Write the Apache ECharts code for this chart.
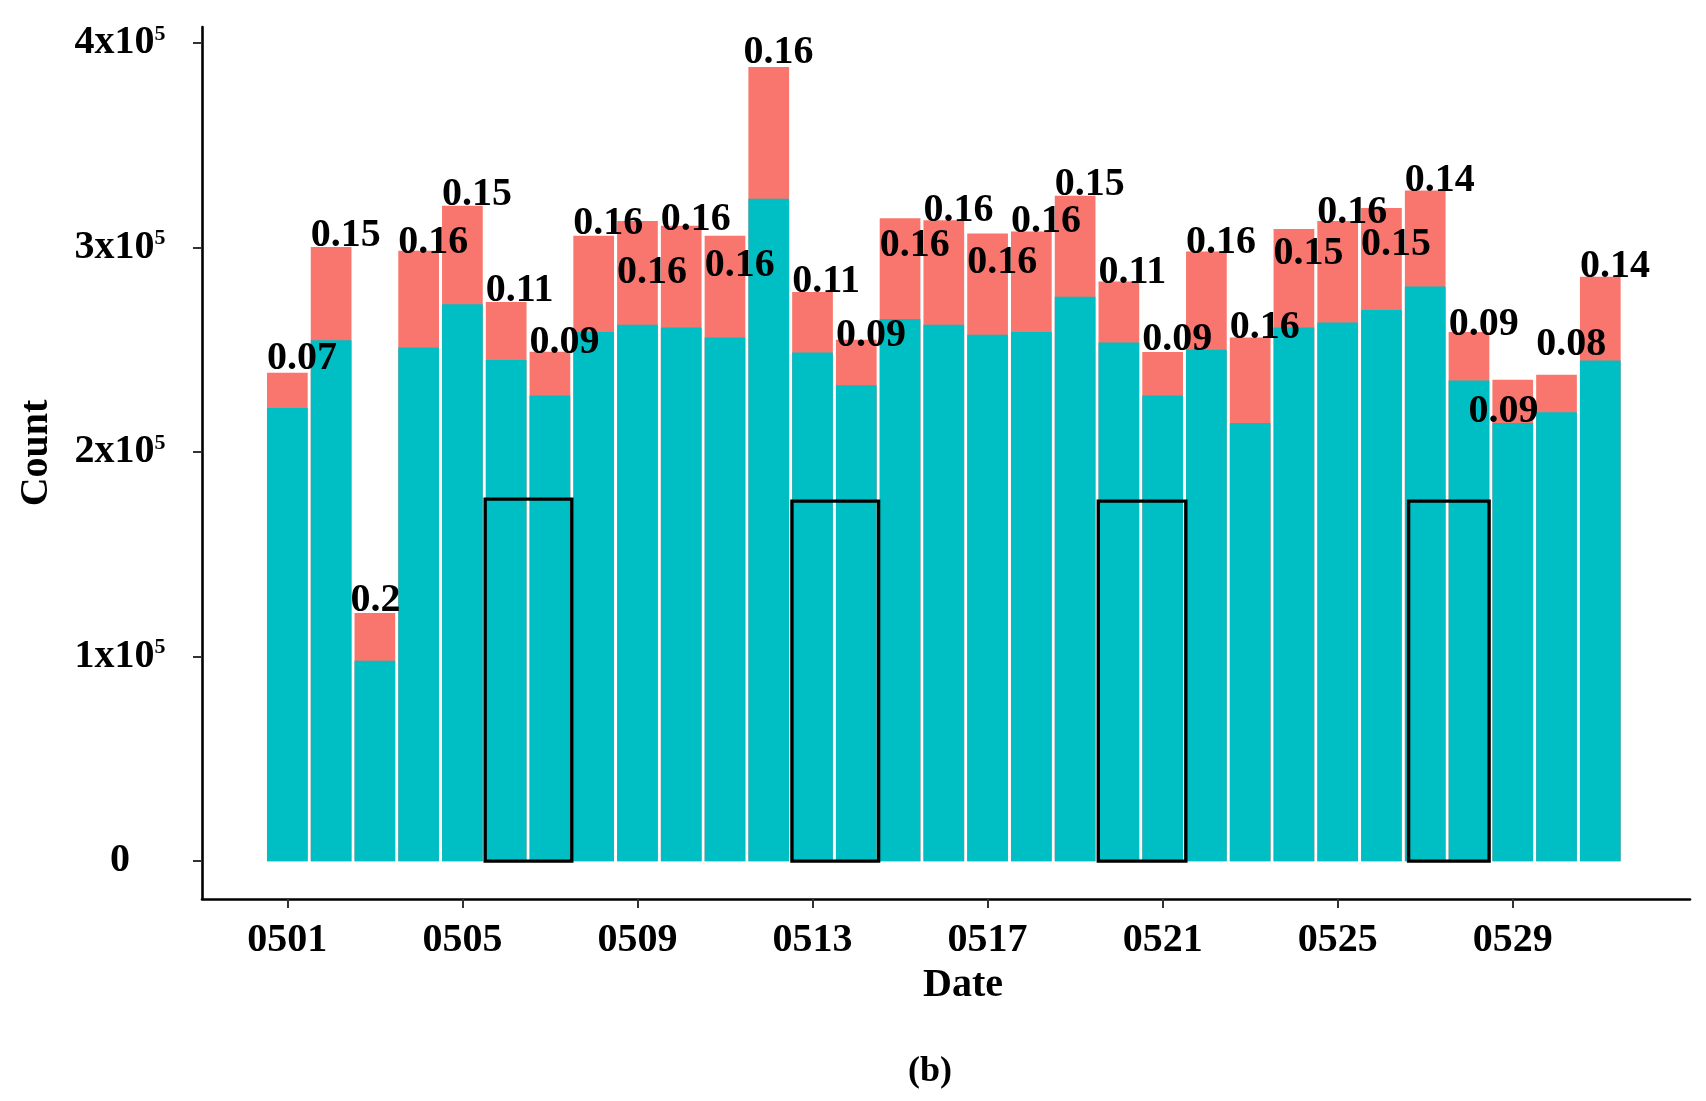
<!DOCTYPE html>
<html>
<head>
<meta charset="utf-8">
<script src="https://cdn.jsdelivr.net/npm/echarts@6/dist/echarts.min.js"></script>
<style>
html,body{margin:0;padding:0;background:#ffffff;}
#chart{width:1706px;height:1101px;}
</style>
</head>
<body>
<div id="chart"></div>
<script>
// ---------------- data ----------------
const dates = ['0501','0502','0503','0504','0505','0506','0507','0508','0509','0510',
               '0511','0512','0513','0514','0515','0516','0517','0518','0519','0520',
               '0521','0522','0523','0524','0525','0526','0527','0528','0529','0530','0531'];
const totalCounts = [238800,300300,121300,298400,320400,273400,249000,305700,313000,310600,
                     305700,388300,278300,254900,314300,313300,306800,307800,325300,283400,
                     248900,298000,256000,309100,313000,319300,327900,258700,235300,237800,285700];
const tealCounts  = [221500,254700, 98000,251100,272300,245000,227700,258700,262200,260900,
                     256000,323800,248700,232600,265000,262200,257300,258700,275900,253600,
                     227700,250000,214200,260900,263300,269500,280900,235000,214200,219400,244800];
const ratioLabels = ['0.07','0.15','0.2','0.16','0.15','0.11','0.09','0.16','0.16','0.16',
                     '0.16','0.16','0.11','0.09','0.16','0.16','0.16','0.16','0.15','0.11',
                     '0.09','0.16','0.16','0.15','0.16','0.15','0.14','0.09','0.09','0.08','0.14'];
const xTickDates = ['0501','0505','0509','0513','0517','0521','0525','0529'];
const yTickValues = [0,100000,200000,300000,400000];
// highlighted weekend boxes, in day-index units (0 = 0501) and counts
const boxStart = [4.52, 11.53, 18.53, 25.62];
const boxEnd   = [6.50, 13.51, 20.53, 27.46];
const boxTop   = [177000, 176000, 176000, 176000];

// ---------------- layout / style ----------------
const FONT = '"Liberation Serif", "DejaVu Serif", serif';
const FS = 40;
const X_MIN = -1.95, X_MAX = 32.05;
const Y_MIN = -18500, Y_MAX = 407800;
const GRID = {left: 202, right: 16, top: 27, bottom: 202};
const gridW = 1706 - GRID.left - GRID.right;
const dayPx = gridW / (X_MAX - X_MIN);
const BAR_FRAC = 0.93;
const barW = BAR_FRAC * dayPx;
// label placement nudges (px): horizontal and vertical offsets from bar top-left
const labelDX = [0,0,-4,0,0,0,0,0,0,0, 0,-5,0,0,0,0,0,0,0,0, 0,0,0,0,0,0,0,0,-24,0,0];
const labelDY = [-2,1,0,4,1,1,3,0,64,6, 42,-2,2,8,39,2,41,2,1,3, 0,3,2,37,4,49,2,5,44,-18,2];
const BASE_ADJ = 8;

const chart = echarts.init(document.getElementById('chart'), null, {renderer: 'canvas'});

const totalData = dates.map((d, i) => [i, totalCounts[i]]);
const tealData = dates.map((d, i) => [i, tealCounts[i]]);
const boxData = boxStart.map((s, i) => [s, boxEnd[i], boxTop[i]]);

const option = {
  animation: false,
  backgroundColor: '#ffffff',
  grid: GRID,
  xAxis: {
    type: 'value',
    min: X_MIN,
    max: X_MAX,
    splitLine: {show: false},
    axisLine: {show: true, onZero: false, lineStyle: {color: '#000', width: 2.6}},
    axisTick: {show: true, length: 9, lineStyle: {color: '#333', width: 2},
               customValues: xTickDates.map(d => dates.indexOf(d))},
    axisLabel: {
      customValues: xTickDates.map(d => dates.indexOf(d)),
      formatter: v => dates[Math.round(v)],
      margin: 22,
      color: '#000',
      fontFamily: FONT,
      fontWeight: 'bold',
      fontSize: FS
    }
  },
  yAxis: {
    type: 'value',
    min: Y_MIN,
    max: Y_MAX,
    splitLine: {show: false},
    axisLine: {show: true, onZero: false, lineStyle: {color: '#000', width: 2.6}},
    axisTick: {show: true, length: 9, lineStyle: {color: '#333', width: 2},
               customValues: yTickValues},
    axisLabel: {
      customValues: yTickValues,
      align: 'center',
      margin: 82,
      formatter: v => v === 0 ? '{n|0}' : '{n|' + (v / 100000) + 'x10}{s|5}',
      rich: {
        n: {fontFamily: FONT, fontWeight: 'bold', fontSize: FS, color: '#000'},
        s: {fontFamily: FONT, fontWeight: 'bold', fontSize: 22, color: '#000', verticalAlign: 'top'}
      }
    }
  },
  series: [
    {
      name: 'total',
      type: 'bar',
      data: totalData,
      barWidth: barW,
      itemStyle: {color: '#F8766D'},
      z: 2
    },
    {
      name: 'teal',
      type: 'bar',
      data: tealData,
      barWidth: barW,
      barGap: '-100%',
      itemStyle: {color: '#00BFC4'},
      z: 2
    },
    {
      name: 'boxes',
      type: 'custom',
      z: 4,
      data: boxData,
      encode: {x: [0, 1], y: 2},
      renderItem: function (params, api) {
        const p0 = api.coord([api.value(0), api.value(2)]);
        const p1 = api.coord([api.value(1), 0]);
        return {
          type: 'rect',
          shape: {x: p0[0], y: p0[1], width: p1[0] - p0[0], height: p1[1] - p0[1]},
          style: {fill: 'none', stroke: '#000', lineWidth: 3.4}
        };
      }
    },
    {
      name: 'labels',
      type: 'custom',
      z: 6,
      data: totalData,
      encode: {x: 0, y: 1},
      renderItem: function (params, api) {
        const i = params.dataIndex;
        const p = api.coord([api.value(0), api.value(1)]);
        return {
          type: 'text',
          x: p[0] - barW / 2 + labelDX[i],
          y: p[1] + labelDY[i] + BASE_ADJ,
          style: {
            text: ratioLabels[i],
            fill: '#000',
            font: 'bold ' + FS + 'px ' + FONT,
            align: 'left',
            verticalAlign: 'bottom'
          }
        };
      }
    }
  ],
  graphic: [
    {type: 'text', x: 37, y: 453, rotation: Math.PI / 2,
     style: {text: 'Count', fill: '#000', font: 'bold ' + FS + 'px ' + FONT, align: 'center', verticalAlign: 'middle'}},
    {type: 'text', x: 963, y: 986,
     style: {text: 'Date', fill: '#000', font: 'bold ' + FS + 'px ' + FONT, align: 'center', verticalAlign: 'middle'}},
    {type: 'text', x: 930, y: 1072,
     style: {text: '(b)', fill: '#000', font: 'bold 36px ' + FONT, align: 'center', verticalAlign: 'middle'}}
  ]
};

chart.setOption(option);
</script>
</body>
</html>
